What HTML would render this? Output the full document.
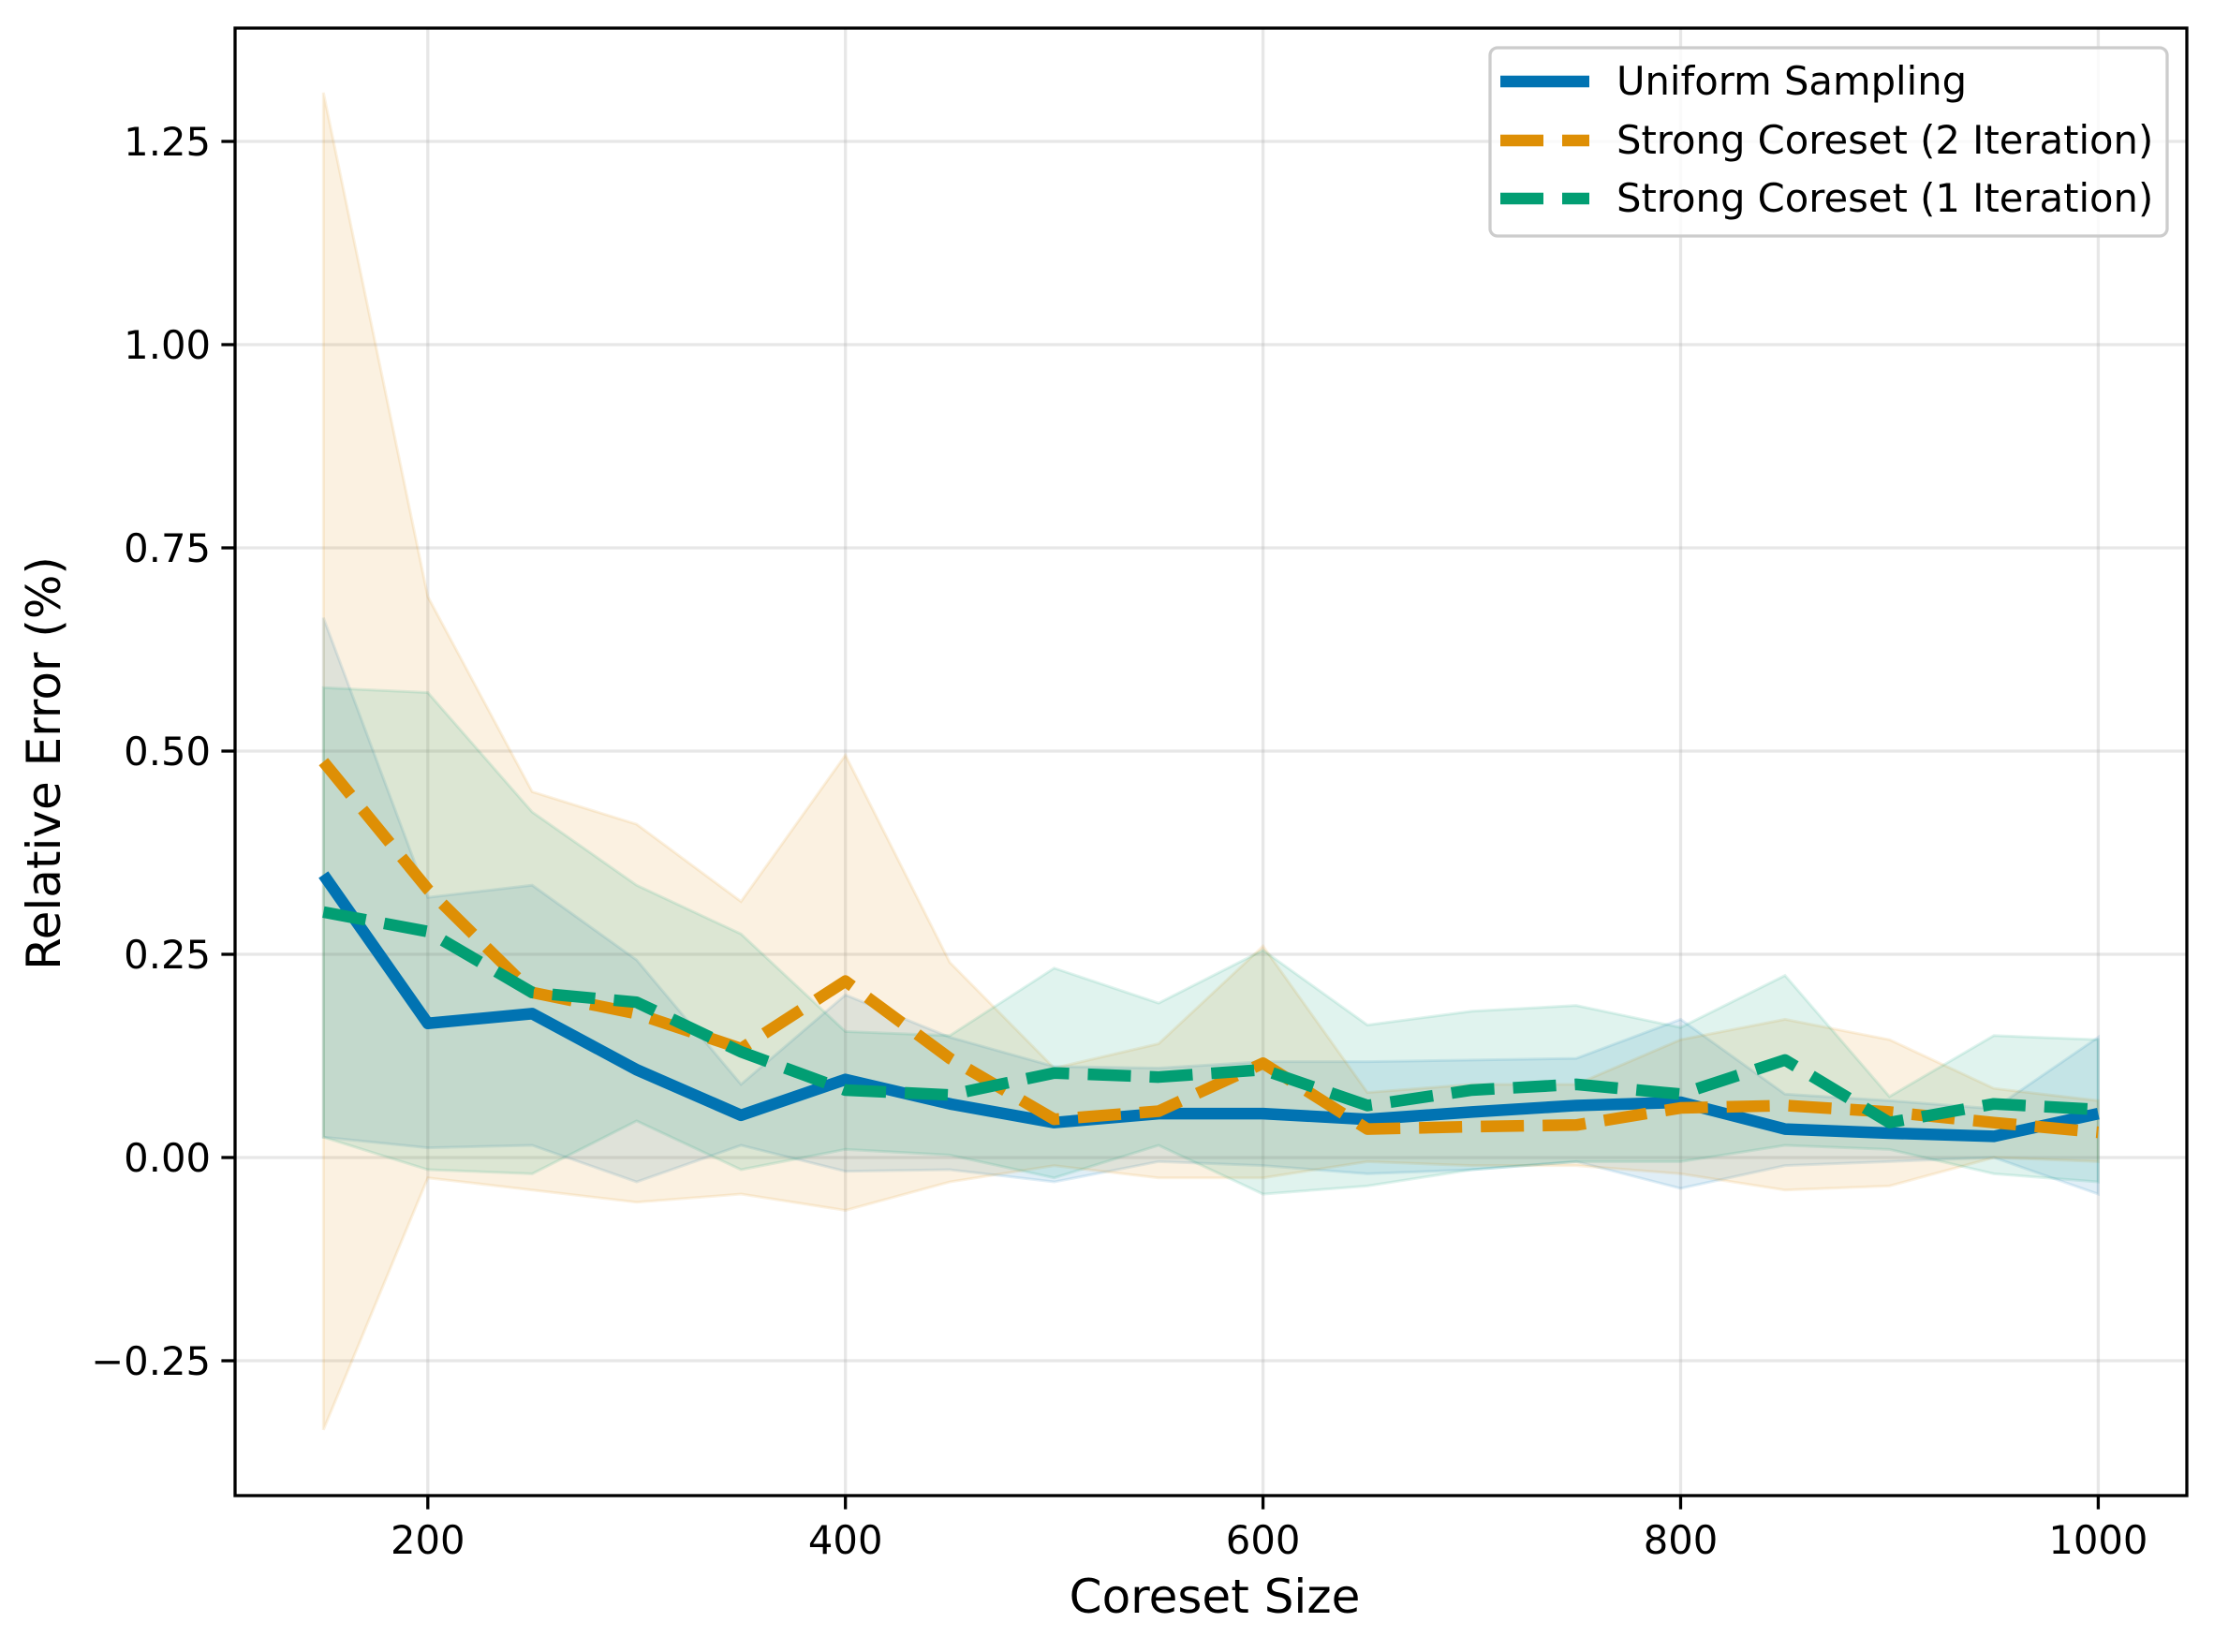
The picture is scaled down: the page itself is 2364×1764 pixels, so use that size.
<!DOCTYPE html>
<html><head><meta charset="utf-8"><style>
html,body{margin:0;padding:0;background:#fff;}
svg{display:block;font-family:"DejaVu Sans","Liberation Sans",sans-serif;}
</style></head><body>
<svg id="chart" width="2364" height="1764" viewBox="0 0 2364 1764" xmlns="http://www.w3.org/2000/svg">
<rect width="2364" height="1764" fill="#fff"/>
<g id="grid"></g>
<g id="bands"></g>
<g id="lines"></g>
<g id="axes"></g>
<text x="1297" y="1722" font-size="50" text-anchor="middle">Coreset Size</text>
<text transform="translate(64,815) rotate(-90)" font-size="50" text-anchor="middle">Relative Error (%)</text>
<g id="legend">
<rect x="1591" y="51" width="723" height="201" rx="8" fill="#fff" fill-opacity="0.8" stroke="#cccccc" stroke-width="3.3"/>
<line x1="1602" y1="87" x2="1697" y2="87" stroke="#0173b2" stroke-width="12.5"/>
<text x="1726" y="101" font-size="41.7">Uniform Sampling</text>
<line x1="1602" y1="150" x2="1697" y2="150" stroke="#de8f05" stroke-width="12.5" stroke-dasharray="46 20"/>
<text x="1726" y="164" font-size="41.7">Strong Coreset (2 Iteration)</text>
<line x1="1602" y1="212" x2="1697" y2="212" stroke="#029e73" stroke-width="12.5" stroke-dasharray="46 20"/>
<text x="1726" y="226" font-size="41.7">Strong Coreset (1 Iteration)</text>
</g>
</svg>
<script>
const sizes = [150,200,250,300,350,400,450,500,550,600,650,700,750,800,850,900,950,1000];
const uniformMean = [0.348,0.165,0.177,0.108,0.052,0.096,0.066,0.043,0.054,0.054,0.047,0.056,0.064,0.068,0.035,0.030,0.026,0.054];
const uniformUpper = [0.664,0.320,0.335,0.243,0.090,0.200,0.148,0.112,0.110,0.118,0.118,0.120,0.122,0.170,0.078,0.070,0.060,0.148];
const uniformLower = [0.025,0.012,0.015,-0.030,0.015,-0.017,-0.015,-0.030,-0.005,-0.010,-0.020,-0.015,-0.005,-0.038,-0.010,-0.005,0.000,-0.045];
const core2Mean = [0.487,0.330,0.203,0.177,0.134,0.217,0.122,0.047,0.057,0.116,0.035,0.038,0.040,0.061,0.064,0.056,0.043,0.031];
const core2Upper = [1.310,0.690,0.450,0.410,0.315,0.495,0.240,0.110,0.140,0.260,0.080,0.090,0.090,0.145,0.170,0.145,0.085,0.070];
const core2Lower = [-0.335,-0.025,-0.040,-0.055,-0.045,-0.065,-0.030,-0.010,-0.025,-0.025,-0.005,-0.010,-0.010,-0.020,-0.040,-0.035,0.000,-0.005];
const core1Mean = [0.302,0.278,0.203,0.191,0.130,0.083,0.077,0.104,0.099,0.108,0.064,0.083,0.090,0.078,0.120,0.043,0.066,0.059];
const core1Upper = [0.578,0.572,0.425,0.335,0.275,0.155,0.150,0.233,0.190,0.255,0.163,0.180,0.187,0.160,0.224,0.075,0.150,0.145];
const core1Lower = [0.025,-0.015,-0.020,0.045,-0.015,0.010,0.003,-0.025,0.015,-0.045,-0.035,-0.015,-0.005,-0.005,0.015,0.010,-0.020,-0.030];
const xTicks = [200,400,600,800,1000];
const yTicks = [-0.25,0,0.25,0.5,0.75,1.0,1.25];
const yTickLabels = ["\u22120.25","0.00","0.25","0.50","0.75","1.00","1.25"];

const L=251,R=2335,T=30,B=1597;
function xs(v){return 456.8+(v-200)*(2240.4-456.8)/800;}
function ys(v){return 1236-v*(1236-151)/1.25;}
const NS="http://www.w3.org/2000/svg";
function mk(tag,attrs,parent){const e=document.createElementNS(NS,tag);for(const k in attrs)e.setAttribute(k,attrs[k]);parent.appendChild(e);return e;}
const grid=document.getElementById('grid'),bands=document.getElementById('bands'),lines=document.getElementById('lines'),axes=document.getElementById('axes');

xTicks.forEach((t,i)=>{
  const g=mk('line',{x1:xs(t),x2:xs(t),y1:T,y2:B,stroke:'#b0b0b0','stroke-opacity':0.3,'stroke-width':3.3},grid);
  
  
  const tk=mk('line',{x1:xs(t),x2:xs(t),y1:B,y2:B+14.6,stroke:'#000','stroke-width':3.3},axes);
  
  
  const tx=mk('text',{x:xs(t),y:B+62,'font-size':41.7,'text-anchor':'middle'},axes);
  tx.textContent=String(t);
  
  
});
yTicks.forEach((t,i)=>{
  const g=mk('line',{x1:L,x2:R,y1:ys(t),y2:ys(t),stroke:'#b0b0b0','stroke-opacity':0.3,'stroke-width':3.3},grid);
  
  
  const tk=mk('line',{x1:L-14.6,x2:L,y1:ys(t),y2:ys(t),stroke:'#000','stroke-width':3.3},axes);
  
  
  const tx=mk('text',{x:L-26,y:ys(t)+15,'font-size':41.7,'text-anchor':'end'},axes);
  tx.textContent=yTickLabels[i];
  
  
});
const frame=mk('rect',{x:L,y:T,width:R-L,height:B-T,fill:'none',stroke:'#000','stroke-width':3.3},axes);



function band(up,lo,color,name){
  let pts=sizes.map((s,i)=>xs(s)+','+ys(up[i]));
  for(let i=sizes.length-1;i>=0;i--)pts.push(xs(sizes[i])+','+ys(lo[i]));
  const p=mk('polygon',{points:pts.join(' '),fill:color,'fill-opacity':0.12,stroke:color,'stroke-opacity':0.12,'stroke-width':3},bands);
  
  
}
function line(m,color,dash,name){
  const a={points:sizes.map((s,i)=>xs(s)+','+ys(m[i])).join(' '),fill:'none',stroke:color,'stroke-width':12.5,'stroke-linejoin':'round'};
  if(dash)a['stroke-dasharray']=dash;
  const p=mk('polyline',a,lines);
  
  
}
band(uniformUpper,uniformLower,'#0173b2','uniform-band');
band(core2Upper,core2Lower,'#de8f05','coreset2-band');
band(core1Upper,core1Lower,'#029e73','coreset1-band');
line(uniformMean,'#0173b2',null,'uniform-line');
line(core2Mean,'#de8f05','46 20','coreset2-line');
line(core1Mean,'#029e73','46 20','coreset1-line');
</script>
</body></html>
